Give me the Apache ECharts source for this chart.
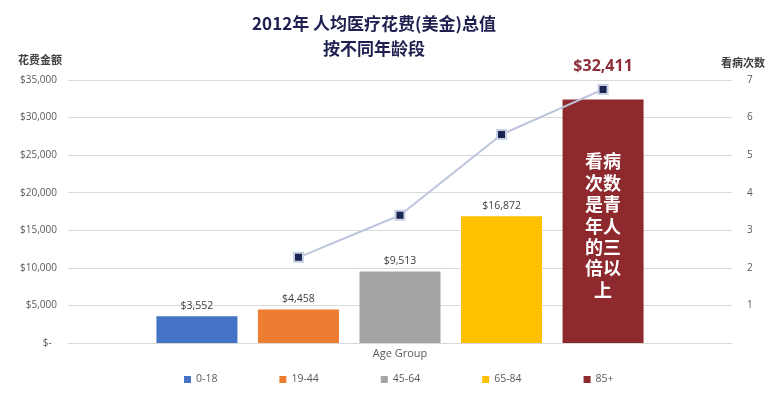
<!DOCTYPE html>
<html>
<head>
<meta charset="utf-8">
<script src="https://cdn.jsdelivr.net/npm/echarts@6/dist/echarts.min.js"></script>
<style>
html,body{margin:0;padding:0;background:#fff;}
#c{width:779px;height:398px;}
</style>
</head>
<body>
<div id="c"></div>
<script>
var categories = ['0-18', '19-44', '45-64', '65-84', '85+'];
var spending = [3552, 4458, 9513, 16872, 32411];
var visits = [null, 2.28, 3.4, 5.55, 6.75];
var barColors = ['#4472C4', '#ED7D31', '#A5A5A5', '#FFC000', '#8E2A2E'];
var leftTicks = [0, 5000, 10000, 15000, 20000, 25000, 30000, 35000];
var rightTicks = [0, 1, 2, 3, 4, 5, 6, 7];
var noteText = '看病\n次数\n是青\n年人\n的三\n倍以\n上';

var cjk = '"Noto Sans CJK SC", "Noto Sans", sans-serif';
var latin = '"Open Sans", "Noto Sans", sans-serif';

function money(v) {
  if (v === 0) return '$-  ';
  return '$' + v.toString().replace(/\B(?=(\d{3})+(?!\d))/g, ',');
}

var series = [];
categories.forEach(function (c, i) {
  var last = i === categories.length - 1;
  var s = {
    name: c,
    type: 'bar',
    yAxisIndex: 0,
    barWidth: 81,
    barGap: '-100%',
    itemStyle: { color: barColors[i] },
    data: [[i, spending[i]]],
    label: {
      show: true,
      position: 'top',
      distance: last ? 25 : 5,
      formatter: function (p) { return money(p.value[1]); },
      fontSize: last ? 16 : 10.5,
      fontWeight: last ? 'bold' : 'normal',
      color: last ? '#8E2E38' : '#404040',
      fontFamily: latin
    }
  };
  if (last) {
    s.markPoint = {
      symbol: 'rect',
      symbolSize: 1,
      itemStyle: { color: 'rgba(0,0,0,0)' },
      data: [{ coord: [i, 15600] }],
      label: {
        show: true,
        position: 'inside',
        formatter: noteText,
        color: '#ffffff',
        fontSize: 18,
        lineHeight: 21.4,
        fontWeight: 'bold',
        fontFamily: cjk
      }
    };
  }
  series.push(s);
});

var lineData = [];
visits.forEach(function (v, i) { if (v !== null) lineData.push([i, v]); });
series.push({
  name: '看病次数',
  type: 'line',
  yAxisIndex: 1,
  data: lineData,
  symbol: 'rect',
  symbolSize: 9,
  lineStyle: { color: '#BCC5DB', width: 2 },
  itemStyle: { color: '#1B2552', borderColor: '#C8D0E4', borderWidth: 2 },
  z: 5
});

var chart = echarts.init(document.getElementById('c'));
chart.setOption({
  animation: false,
  backgroundColor: '#ffffff',
  title: [
    {
      text: '2012年 人均医疗花费(美金)总值\n按不同年龄段',
      left: 369,
      textAlign: 'center',
      top: 6,
      textStyle: {
        fontFamily: cjk,
        fontSize: 17,
        fontWeight: 'bold',
        color: '#1F1F50',
        lineHeight: 25
      }
    },
    {
      text: '花费金额',
      left: 40,
      textAlign: 'center',
      top: 54,
      padding: 0,
      textStyle: { fontSize: 11, fontWeight: 'bold', color: '#404040', fontFamily: cjk }
    }
  ],
  legend: {
    data: categories,
    left: 179,
    top: 369,
    icon: 'rect',
    itemWidth: 7,
    itemHeight: 7,
    itemGap: 62,
    textStyle: { fontSize: 10.5, color: '#595959', fontFamily: latin }
  },
  grid: { left: 68, right: 47, top: 80, bottom: 55 },
  xAxis: {
    type: 'value',
    min: -1.27,
    max: 5.27,
    name: 'Age Group',
    nameLocation: 'middle',
    nameGap: 5,
    nameTextStyle: { fontSize: 11, color: '#595959', fontFamily: latin, verticalAlign: 'top' },
    axisLine: { show: true, lineStyle: { color: '#D9D9D9' } },
    axisTick: { show: false },
    axisLabel: { show: false },
    splitLine: { show: false }
  },
  yAxis: [
    {
      type: 'value',
      min: leftTicks[0],
      max: leftTicks[leftTicks.length - 1],
      interval: leftTicks[1] - leftTicks[0],
      axisLine: { show: false },
      axisTick: { show: false },
      axisLabel: { formatter: money, margin: 11, fontSize: 10, color: '#595959', fontFamily: latin },
      splitLine: { lineStyle: { color: '#D9D9D9' } }
    },
    {
      type: 'value',
      min: rightTicks[0],
      max: rightTicks[rightTicks.length - 1],
      interval: rightTicks[1] - rightTicks[0],
      name: '看病次数',
      nameLocation: 'end',
      nameGap: 12,
      nameTextStyle: { align: 'center', padding: [0, 0, 0, 22], fontSize: 11, fontWeight: 'bold', color: '#404040', fontFamily: cjk },
      axisLine: { show: false },
      axisTick: { show: false },
      axisLabel: {
        formatter: function (v) { return v === 0 ? '' : String(v); },
        margin: 15, fontSize: 10, color: '#595959', fontFamily: latin
      },
      splitLine: { show: false }
    }
  ],
  series: series
});
</script>
</body>
</html>
